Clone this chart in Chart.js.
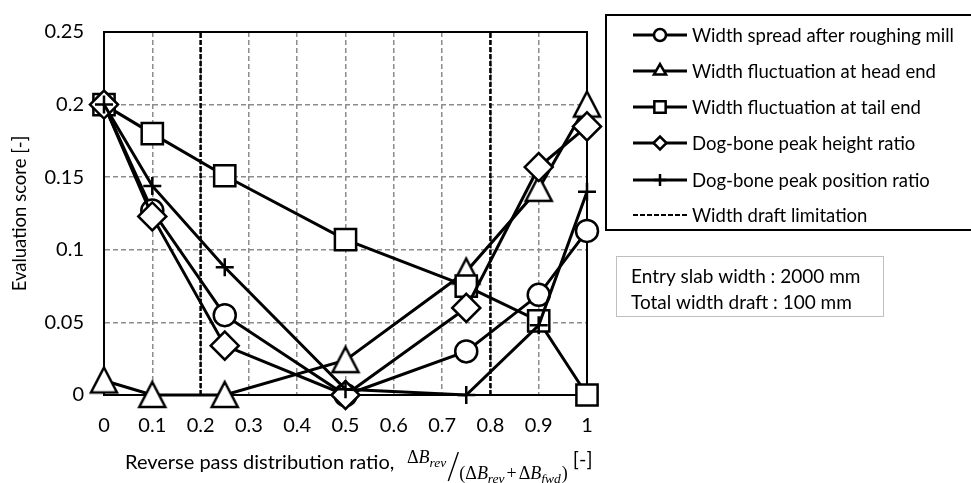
<!DOCTYPE html>
<html>
<head>
<meta charset="utf-8">
<title>Evaluation score vs reverse pass distribution ratio</title>
<script src="https://cdn.jsdelivr.net/npm/chart.js@4.4.0/dist/chart.umd.min.js"></script>
<style>
  html, body { margin: 0; padding: 0; background: #fff; }
  #wrap { position: relative; width: 971px; height: 483px; }
</style>
</head>
<body>
<div id="wrap"><canvas id="evalChart" width="971" height="483"></canvas></div>
<script>
// Reverse pass distribution ratio (x positions of the markers)
const ratios = [0, 0.1, 0.25, 0.5, 0.75, 0.9, 1];

// Evaluation scores
const widthSpread     = [0.200, 0.127, 0.055, 0.000, 0.030, 0.069, 0.113];
const headFluctuation = [0.010, 0.000, 0.000, 0.024, 0.085, 0.142, 0.200];
const tailFluctuation = [0.200, 0.180, 0.151, 0.107, 0.075, 0.051, 0.000];
const dogBoneHeight   = [0.200, 0.123, 0.034, 0.000, 0.060, 0.157, 0.185];
const dogBonePosition = [0.200, 0.144, 0.088, 0.004, 0.000, 0.048, 0.140];

// Width draft limitation (vertical dashed lines)
const draftLimits = [0.2, 0.8];

const seriesNames = [
    'Width spread after roughing mill',
    'Width fluctuation at head end',
    'Width fluctuation at tail end',
    'Dog-bone peak height ratio',
    'Dog-bone peak position ratio'
];
const limitName = 'Width draft limitation';

const xTicks = [0, 0.1, 0.2, 0.3, 0.4, 0.5, 0.6, 0.7, 0.8, 0.9, 1];
const yTicks = [0, 0.05, 0.1, 0.15, 0.2, 0.25];

const noteLines = ['Entry slab width : 2000 mm', 'Total width draft : 100 mm'];

const FONT = 'Lato, "Open Sans", sans-serif';
const MATH = '"Liberation Serif", "DejaVu Serif", serif';

// triangle marker centred on its bounding box (like the spreadsheet marker)
function triangleMarker(size) {
    const c = document.createElement('canvas');
    c.width = size;
    c.height = size;
    const g = c.getContext('2d');
    g.fillStyle = '#fff';
    g.strokeStyle = '#000';
    g.lineWidth = 2.5;
    g.lineJoin = 'miter';
    g.beginPath();
    g.moveTo(size / 2, 3);
    g.lineTo(size - 3, size - 4);
    g.lineTo(3, size - 4);
    g.closePath();
    g.fill();
    g.stroke();
    return c;
}

function toPoints(values) {
    return ratios.map((x, i) => ({ x: x, y: values[i] }));
}

function series(label, values, style, radius, legendStyle, legendRadius) {
    return {
        label: label,
        data: toPoints(values),
        borderColor: '#000',
        borderWidth: 3,
        backgroundColor: '#fff',
        pointStyle: style,
        pointRadius: radius,
        pointBorderWidth: 2.5,
        pointBackgroundColor: '#fff',
        pointBorderColor: '#000',
        legendStyle: legendStyle,
        legendRadius: legendRadius,
        clip: false,
        tension: 0
    };
}

// draft limit lines as one dataset, broken by a null point
const limitPoints = [];
draftLimits.forEach((x, i) => {
    if (i > 0) limitPoints.push({ x: x, y: null });
    limitPoints.push({ x: x, y: yTicks[0] });
    limitPoints.push({ x: x, y: yTicks[yTicks.length - 1] });
});

const datasets = [
    {
        label: limitName,
        data: limitPoints,
        borderColor: '#000',
        borderWidth: 2.5,
        borderDash: [5, 2],
        pointRadius: 0,
        spanGaps: false
    },
    series(seriesNames[4], dogBonePosition, 'cross', 9, 'cross', 6),
    series(seriesNames[3], dogBoneHeight, 'rectRot', 14, 'rectRot', 6.5),
    series(seriesNames[2], tailFluctuation, 'rect', 15, 'rect', 8),
    series(seriesNames[1], headFluctuation, triangleMarker(32), 15, 'triangle', 7),
    series(seriesNames[0], widthSpread, 'circle', 11, 'circle', 6)
];

// frame around the plot area
const framePlugin = {
    id: 'frame',
    beforeDatasetsDraw(chart) {
        const { ctx, chartArea: a } = chart;
        ctx.save();
        ctx.strokeStyle = '#000';
        ctx.lineWidth = 2;
        ctx.strokeRect(a.left, a.top, a.right - a.left, a.bottom - a.top);
        ctx.restore();
    }
};

// legend box, note box and the x axis title with the formula
const extrasPlugin = {
    id: 'extras',
    afterDraw(chart) {
        const ctx = chart.ctx;
        ctx.save();

        // legend box
        ctx.strokeStyle = '#000';
        ctx.lineWidth = 2;
        ctx.strokeRect(606, 15, 380, 215);

        const rowY = [35, 71, 107, 143, 180, 215];
        const entries = [5, 4, 3, 2, 1, 0]; // dataset indexes, top to bottom
        ctx.textBaseline = 'middle';
        ctx.textAlign = 'left';
        entries.forEach((dsIndex, row) => {
            const ds = chart.data.datasets[dsIndex];
            const y = rowY[row];
            ctx.strokeStyle = '#000';
            if (dsIndex === 0) {
                ctx.lineWidth = 2;
                ctx.setLineDash([5, 2]);
            } else {
                ctx.lineWidth = 3;
                ctx.setLineDash([]);
            }
            ctx.beginPath();
            ctx.moveTo(633, y);
            ctx.lineTo(687, y);
            ctx.stroke();
            ctx.setLineDash([]);
            if (dsIndex !== 0) {
                ctx.fillStyle = '#fff';
                ctx.strokeStyle = '#000';
                ctx.lineWidth = 2.5;
                Chart.helpers.drawPoint(ctx, {
                    pointStyle: ds.legendStyle,
                    radius: ds.legendRadius,
                    borderWidth: 2.5,
                    rotation: 0
                }, 660, y);
            }
            ctx.fillStyle = '#000';
            ctx.font = '18.5px ' + FONT;
            ctx.fillText(ds.label, 692, y + 1);
        });

        // note box
        ctx.strokeStyle = '#bfbfbf';
        ctx.lineWidth = 1;
        ctx.strokeRect(616.5, 256.5, 267, 60);
        ctx.fillStyle = '#000';
        ctx.font = '19px ' + FONT;
        ctx.fillText(noteLines[0], 631, 277);
        ctx.fillText(noteLines[1], 631, 303);

        // x axis title
        ctx.font = '20px ' + FONT;
        ctx.fillText('Reverse pass distribution ratio,', 125, 463);

        let x = 407;
        const mathFont = 'italic 18px ' + MATH;
        const subFont = 'italic 13.5px ' + MATH;
        const upright = '18px ' + MATH;
        function piece(text, font, y, gapAfter) {
            ctx.font = font;
            ctx.fillText(text, x, y);
            x += ctx.measureText(text).width + (gapAfter || 0);
        }
        // numerator
        const yNum = 458;
        piece('\u0394', upright, yNum);
        piece('B', mathFont, yNum);
        piece('rev', subFont, yNum + 5);
        // slash
        ctx.strokeStyle = '#000';
        ctx.lineWidth = 1.4;
        ctx.beginPath();
        ctx.moveTo(x + 12, 452);
        ctx.lineTo(x + 2, 481);
        ctx.stroke();
        x += 13;
        // denominator
        const yDen = 474;
        piece('(', upright, yDen);
        piece('\u0394', upright, yDen);
        piece('B', mathFont, yDen);
        piece('rev', subFont, yDen + 5, 2);
        piece('+', upright, yDen, 2);
        piece('\u0394', upright, yDen);
        piece('B', mathFont, yDen);
        piece('fwd', subFont, yDen + 5, 1);
        piece(')', upright, yDen);
        x += 5;
        ctx.font = '20px ' + FONT;
        ctx.fillText('[-]', x, 460);

        ctx.restore();
    }
};

new Chart(document.getElementById('evalChart'), {
    type: 'line',
    data: { datasets: datasets },
    options: {
        responsive: false,
        devicePixelRatio: 1,
        animation: false,
        layout: { padding: { left: 0, top: 15, right: 384, bottom: 0 } },
        plugins: {
            legend: { display: false },
            tooltip: { enabled: false }
        },
        scales: {
            x: {
                type: 'linear',
                min: 0,
                max: 1,
                afterBuildTicks: s => { s.ticks = xTicks.map(v => ({ value: v })); },
                afterFit: s => { s.height = 88; },
                ticks: {
                    color: '#000',
                    font: { family: FONT, size: 20 },
                    padding: 19,
                    maxRotation: 0,
                    callback: v => String(v)
                },
                grid: { color: '#8c8c8c', lineWidth: 1.5, drawTicks: false },
                border: { display: true, color: '#000', width: 2, dash: [5, 3] }
            },
            y: {
                type: 'linear',
                min: 0,
                max: 0.25,
                afterBuildTicks: s => { s.ticks = yTicks.map(v => ({ value: v })); },
                afterFit: s => { s.width = 104; },
                ticks: {
                    color: '#000',
                    font: { family: FONT, size: 20 },
                    padding: 20,
                    callback: v => String(v)
                },
                grid: { color: '#8c8c8c', lineWidth: 1.5, drawTicks: false },
                border: { display: true, color: '#000', width: 2, dash: [5, 3] },
                title: {
                    display: true,
                    text: 'Evaluation score [-]',
                    color: '#000',
                    font: { family: FONT, size: 18.5 },
                    padding: { top: 9, bottom: 0 }
                }
            }
        }
    },
    plugins: [framePlugin, extrasPlugin]
});
</script>
</body>
</html>
